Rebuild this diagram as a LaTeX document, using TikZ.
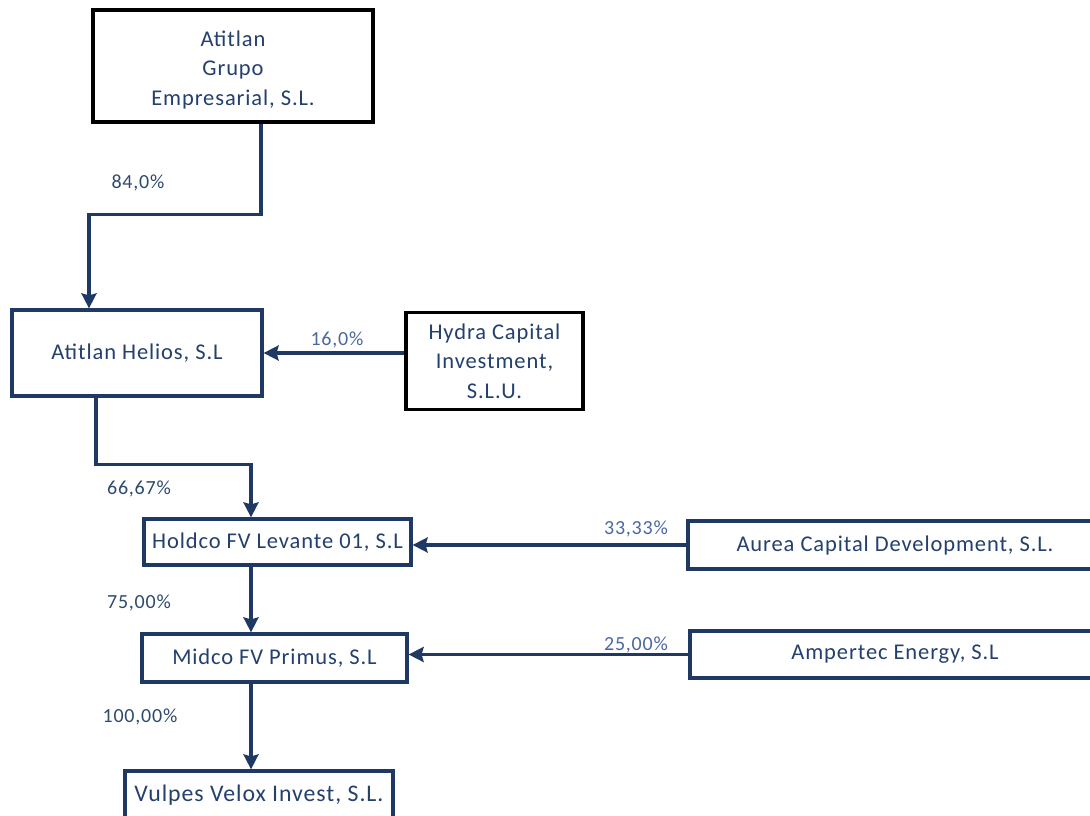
\documentclass[tikz,border=0pt]{standalone}
\usepackage{fontspec}
\setmainfont{Carlito}[LetterSpace=4]
\usetikzlibrary{arrows.meta}
\definecolor{navy}{HTML}{1F3864}
\definecolor{boxtxt}{HTML}{23406E}
\definecolor{lbldark}{HTML}{2E4A6E}
\definecolor{lbllight}{HTML}{4A68A0}
\begin{document}
\begin{tikzpicture}[x=1pt,y=-1pt,
  boxfont/.style={font=\fontsize{22.5}{29.5}\selectfont,text=boxtxt,align=center},
  box/.style={draw=navy,line width=3.2pt,fill=white,boxfont,inner sep=0pt},
  blackbox/.style={box,draw=black},
  conn/.style={draw=navy,line width=3.2pt,-{Stealth[length=15pt,width=15pt,inset=2pt]}},
  lbl/.style={font=\fontsize{20}{22}\selectfont,text=lbldark,inner sep=0pt},
  lbll/.style={lbl,text=lbllight}]
\useasboundingbox (0,0) rectangle (1090,816);
\node[blackbox,minimum width=280pt,minimum height=112pt] (b1) at (233,66) {};
\node[boxfont,inner sep=0pt] (b1t) at (233,70) {Atitlan\\Grupo\\Empresarial, S.L.};
\node[box,minimum width=250pt,minimum height=86pt] (b2) at (137,353) {Atitlan Helios, S.L};
\node[blackbox,minimum width=177pt,minimum height=97pt] (b3) at (494.5,361) {Hydra Capital\\Investment,\\S.L.U.};
\node[box,minimum width=267pt,minimum height=46pt] (b4) at (277.5,542) {Holdco FV Levante 01, S.L};
\node[box,minimum width=414pt,minimum height=48pt] (b5) at (895,545) {Aurea Capital Development, S.L.};
\node[box,minimum width=265pt,minimum height=48pt] (b6) at (274.5,658) {Midco FV Primus, S.L};
\node[box,minimum width=410pt,minimum height=47pt] (b7) at (895,654.5) {Ampertec Energy, S.L};
\node[box,minimum width=268pt,minimum height=48pt,font=\fontsize{23.8}{30}\selectfont] (b8) at (259,795) {Vulpes Velox Invest, S.L.};
\draw[conn] ([xshift=28pt]b1.south) -- ++(0,91) -| ([xshift=-48pt]b2.north);
\draw[conn] (b3.west |- b2.east) -- (b2.east);
\draw[conn] ([xshift=-41pt]b2.south) -- ++(0,67) -| ([xshift=-26.5pt]b4.north);
\draw[conn] (b5.west) -- (b5.west -| b4.east);
\draw[conn] ([xshift=-26.5pt]b4.south) -- ([xshift=-23.5pt]b6.north);
\draw[conn] (b7.west) -- (b7.west -| b6.east);
\draw[conn] ([xshift=-23.5pt]b6.south) -- ([xshift=-8pt]b8.north);
\node[lbl] (l1) at (138,183) {84,0\%};
\node[lbll] (l2) at (337,340) {16,0\%};
\node[lbl] (l3) at (139,489) {66,67\%};
\node[lbll] (l4) at (636,529) {33,33\%};
\node[lbl] (l5) at (139,603) {75,00\%};
\node[lbll] (l6) at (636,645) {25,00\%};
\node[lbl] (l7) at (140,717) {100,00\%};
\end{tikzpicture}
\end{document}
